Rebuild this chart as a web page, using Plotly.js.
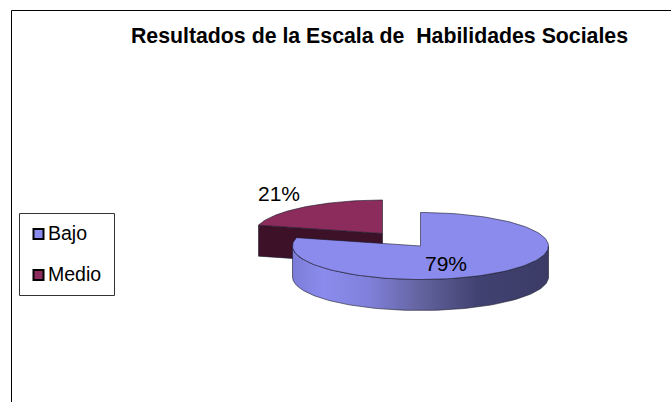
<!DOCTYPE html>
<html>
<head>
<meta charset="utf-8">
<script src="https://cdn.plot.ly/plotly-3.0.1.min.js"></script>
<style>html,body{margin:0;padding:0;background:#fff;overflow:hidden}</style>
</head>
<body>
<div id="chart" style="width:671px;height:402px"></div>
<script>
const categories = ['Bajo', 'Medio'];
const values = [79, 21];
const topColors = ['#8B8BEE', '#8B2C5C'];
const wallColors = ['#3B3B66', '#3D1228'];
const titleText = 'Resultados de la Escala de \u00A0Habilidades Sociales';

const font = '"Liberation Sans", Arial, sans-serif';
const rx = 128, ry = 33.5, depth = 31;
const centers = [[420.5, 246], [382.5, 233.5]];

const total = values.reduce((a, b) => a + b, 0);
const bajoEnd = values[0] / total * 360;

function pt(c, deg, dy) {
  const r = deg * Math.PI / 180;
  return [c[0] + rx * Math.sin(r), c[1] - ry * Math.cos(r) + (dy || 0)];
}
function arc(c, a, b, dy) {
  const out = [], n = 120;
  for (let i = 0; i <= n; i++) out.push(pt(c, a + (b - a) * i / n, dy));
  return out;
}
function poly(points, fillcolor, extra) {
  return Object.assign({
    type: 'scatter', mode: 'lines', x: points.map(p => p[0]), y: points.map(p => p[1]),
    fill: 'toself', fillcolor, line: {color: '#1a1a2a', width: 0.6},
    hoverinfo: 'skip', showlegend: false
  }, extra || {});
}

const traces = [];
// Medio: wall then top
const mc = centers[1];
const mTip = pt(mc, bajoEnd);
traces.push(poly([mTip, mc, [mc[0], mc[1] + depth], [mTip[0], mTip[1] + depth], mTip], wallColors[1]));
traces.push(poly([mc].concat(arc(mc, bajoEnd, 360)).concat([mc]), topColors[1]));
// Bajo: wall then top
const bc = centers[0];
const wall = arc(bc, 90, 270).concat(arc(bc, 270, 90, depth));
wall.push(wall[0]);
traces.push(poly(wall, wallColors[0], {
  fillgradient: {
    type: 'horizontal',
    colorscale: [[0, '#7C7CD8'], [0.12, '#8B8BEE'], [0.3, '#8080DA'], [0.5, '#63639F'], [0.72, '#424272'], [1, '#3B3B66']]
  }
}));
traces.push(poly([bc].concat(arc(bc, 0, bajoEnd)).concat([bc]), topColors[0]));
// Legend swatches
const legendX = [38.5, 38.5], legendY = [234, 275];
traces.push({
  type: 'scatter', mode: 'markers', x: legendX, y: legendY,
  marker: {symbol: 'square', size: 10, color: topColors, line: {color: '#000', width: 2}},
  hoverinfo: 'skip', showlegend: false
});

const annotations = [
  {x: 446, y: 263, text: values[0] + '%', size: 21},
  {x: 279, y: 193, text: values[1] + '%', size: 21},
  {x: 46, y: 233, text: categories[0], size: 19.5, xanchor: 'left'},
  {x: 46, y: 274, text: categories[1], size: 19.5, xanchor: 'left'}
].map(a => ({
  x: a.x, y: a.y, xref: 'x', yref: 'y', text: a.text, showarrow: false,
  xanchor: a.xanchor || 'center', yanchor: 'middle',
  font: {family: font, size: a.size, color: '#000'}
}));

const shapes = [
  {type: 'line', xref: 'x', yref: 'y', x0: 11.5, x1: 671, y0: 10.5, y1: 10.5, line: {color: '#000', width: 1}},
  {type: 'line', xref: 'x', yref: 'y', x0: 11.5, x1: 11.5, y0: 10.5, y1: 402, line: {color: '#000', width: 1}},
  {type: 'rect', xref: 'x', yref: 'y', x0: 19.5, x1: 114.5, y0: 213.5, y1: 295.5, line: {color: '#333', width: 1}, fillcolor: '#fff', layer: 'below'}
];

Plotly.newPlot('chart', traces, {
  width: 671, height: 402,
  margin: {l: 0, r: 0, t: 0, b: 0},
  paper_bgcolor: '#fff', plot_bgcolor: '#fff',
  title: {
    text: '<b>' + titleText + '</b>', x: 379.5 / 671, xanchor: 'center', y: 1 - 36 / 402, yanchor: 'middle',
    font: {family: font, size: 21.3, color: '#000'}
  },
  xaxis: {range: [0, 671], visible: false, fixedrange: true},
  yaxis: {range: [402, 0], visible: false, fixedrange: true},
  showlegend: false, annotations, shapes
}, {displayModeBar: false, staticPlot: true});
</script>
</body>
</html>
